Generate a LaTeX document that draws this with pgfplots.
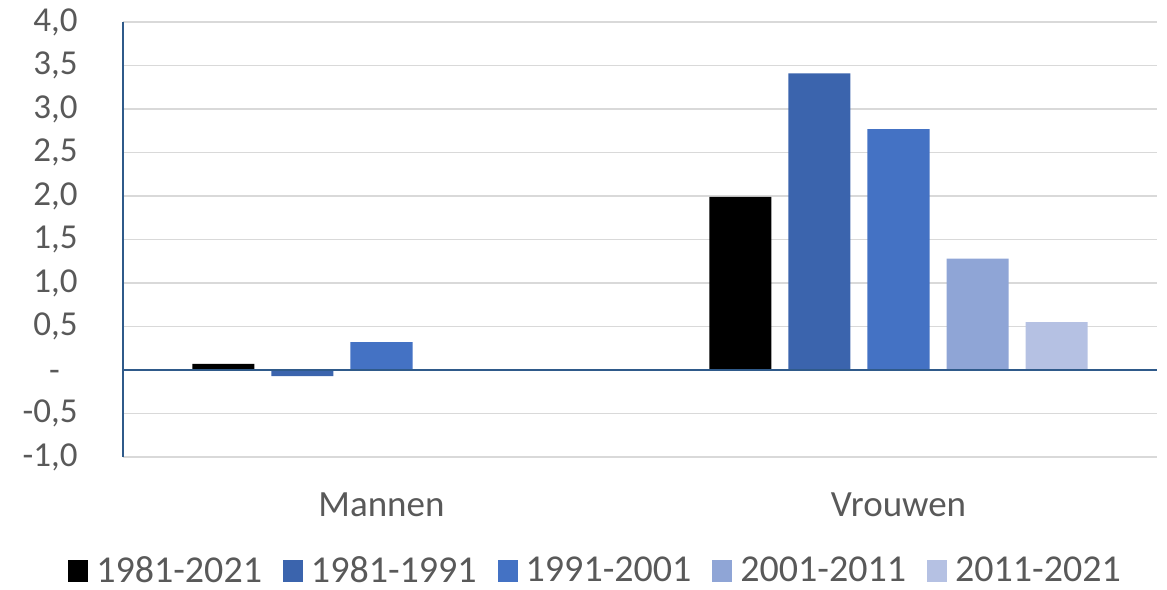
\documentclass[border=0pt]{standalone}
\usepackage{pgfplots}
\pgfplotsset{compat=1.18}
\usepackage{fontspec}
\setmainfont{Carlito}
\definecolor{txt}{HTML}{595959}
\definecolor{axisblue}{HTML}{2F5A8A}
\definecolor{gridc}{HTML}{D9D9D9}
\definecolor{cA}{HTML}{000000}
\definecolor{cB}{HTML}{3B64AD}
\definecolor{cC}{HTML}{4472C4}
\definecolor{cD}{HTML}{8FA5D6}
\definecolor{cE}{HTML}{B5C1E3}
\begin{document}
\begin{tikzpicture}
\useasboundingbox (-61.5pt,-66pt) rectangle (522pt,228.5pt);
\begin{axis}[
  at={(0,0)},anchor=south west,scale only axis,
  width=517pt,height=217.5pt,
  xmin=-0.5,xmax=1.5,ymin=-1,ymax=4,
  axis lines*=left,
  x axis line style={draw=none},
  y axis line style={draw=axisblue,line width=0.8pt},
  major tick length=0pt,
  xtick={0,1},xticklabels={Mannen,Vrouwen},
  ytick={-1,-0.5,0,0.5,1,1.5,2,2.5,3,3.5,4},
  yticklabels={{-1,0},{-0,5},{-\phantom{0}},{0,5},{1,0},{1,5},{2,0},{2,5},{3,0},{3,5},{4,0}},
  ymajorgrids,grid style={gridc,line width=0.6pt},
  tick label style={font=\fontsize{17.5}{20}\selectfont,text=txt},
  yticklabel style={inner sep=0pt,anchor=east,xshift=-22.5pt},
  xticklabel style={inner sep=0pt,anchor=base,yshift=-29.5pt,font=\fontsize{18.5}{20}\selectfont},
  ybar,bar width=0.12,
  legend columns=-1,
  legend style={draw=none,fill=none,at={(0.458,-0.262)},anchor=center,
    font=\fontsize{19}{21}\selectfont,text=txt,inner sep=0pt,
    /tikz/every odd column/.append style={column sep=2pt},
    /tikz/every even column/.append style={column sep=8.5pt}},
  legend image code/.code={\fill[#1] (0pt,-5.5pt) rectangle (10pt,5.5pt);},
]
\addplot[fill=cA,draw=none,bar shift=-0.306] coordinates {(0,0.07) (1,1.99)};
\addlegendentry{1981-2021}
\addplot[fill=cB,draw=none,bar shift=-0.153] coordinates {(0,-0.07) (1,3.41)};
\addlegendentry{1981-1991}
\addplot[fill=cC,draw=none,bar shift=0] coordinates {(0,0.32) (1,2.77)};
\addlegendentry{1991-2001}
\addplot[fill=cD,draw=none,bar shift=0.153] coordinates {(0,0.01) (1,1.28)};
\addlegendentry{2001-2011}
\addplot[fill=cE,draw=none,bar shift=0.306] coordinates {(0,0.0) (1,0.55)};
\addlegendentry{2011-2021}
\draw[axisblue,line width=1pt] (rel axis cs:0,0.2) -- (rel axis cs:1,0.2);
\end{axis}
\end{tikzpicture}
\end{document}
